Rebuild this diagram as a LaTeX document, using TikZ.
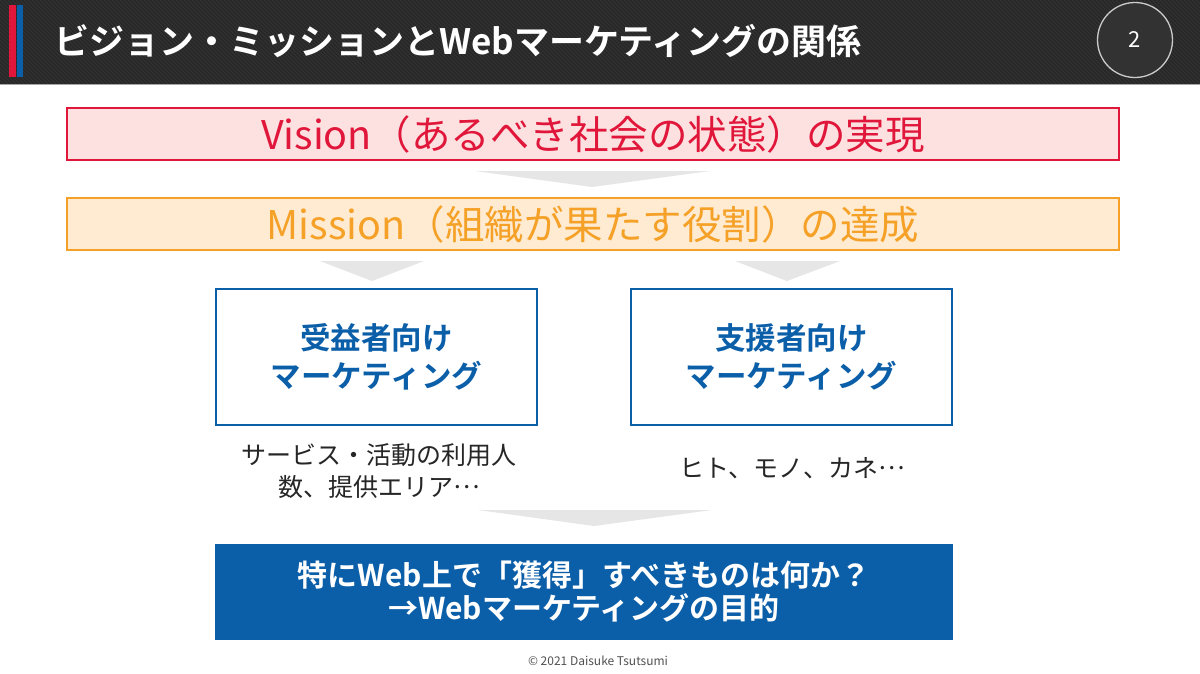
\documentclass[tikz,border=0pt]{standalone}
\usepackage{fontspec}
\setmainfont{Noto Sans CJK JP}
\newfontfamily\jpb{Noto Sans CJK JP Bold}
\newfontfamily\jp{Noto Sans CJK JP}
\definecolor{hdr}{HTML}{262626}
\definecolor{hdrstripe}{HTML}{323232}
\definecolor{vred}{HTML}{E0173A}
\definecolor{vfill}{HTML}{FDE1E1}
\definecolor{morange}{HTML}{F5A127}
\definecolor{mfill}{HTML}{FFEBD2}
\definecolor{mblue}{HTML}{0B5EA8}
\definecolor{arrowgray}{HTML}{E6E6E6}
\definecolor{txtgray}{HTML}{262626}
\newcommand{\midell}{\raisebox{0.3em}{…}}
\tikzset{
  bigbox/.style={draw, line width=2.5pt, minimum width=1052pt, minimum height=52pt, inner sep=0pt, font=\jp\fontsize{39.5}{42}\selectfont},
  sidebox/.style={draw=mblue, fill=white, line width=2.5pt, minimum width=321pt, minimum height=136pt, inner sep=0pt, align=center, text=mblue, font=\jpb\fontsize{30.5}{38}\selectfont},
  note/.style={align=center, text=txtgray, font=\jp\fontsize{25}{32}\selectfont, inner sep=0pt},
  chev/.style={fill=arrowgray, draw=none}
}
\begin{document}
\begin{tikzpicture}[x=1pt,y=-1pt]
\useasboundingbox (0,0) rectangle (1200,673);
\fill[white] (0,0) rectangle (1200,673);
% header
\fill[hdr] (0,0) rectangle (1200,84);
\begin{scope}
\clip (0,0) rectangle (1200,84);
\foreach \i in {-100,...,320}{
  \draw[hdrstripe, line width=1.3pt] (\i*4,0) -- ++(84,84);
}
\end{scope}
\draw[gray!70, line width=1pt] (0,84.5) -- (1200,84.5);
\fill[vred] (9,5) rectangle (15.5,77);
\fill[mblue] (16.5,5) rectangle (23,77);
\node[anchor=west, text=white, font=\jpb\fontsize{35}{40}\selectfont, inner sep=0pt] (title) at (54,41) {ビジョン・ミッションとWebマーケティングの関係};
\node[circle, draw=gray!40, line width=1.3pt, fill=hdrstripe, minimum size=75pt, inner sep=0pt, text=white, font=\jp\fontsize{22}{26}\selectfont] (page) at (1135,40) {2};
% vision
\node[bigbox, draw=vred, fill=vfill, text=vred] (vision) at (593,134) {Vision（あるべき社会の状態）の実現};
\fill[chev] (475,171) -- (710,171) -- (592,187) -- cycle;
% mission
\node[bigbox, draw=morange, fill=mfill, text=morange] (mission) at (593,224) {Mission（組織が果たす役割）の達成};
\fill[chev] (320,261) -- (424,261) -- (372,281) -- cycle;
\fill[chev] (735,261) -- (840,261) -- (787,281) -- cycle;
% side boxes
\node[sidebox] (left) at (376.5,357) {受益者向け\\マーケティング};
\node[sidebox] (right) at (791.5,357) {支援者向け\\マーケティング};
\node[note] (lnote) at (379,471) {サービス・活動の利用人\\数、提供エリア\midell};
\node[note] (rnote) at (792,468) {ヒト、モノ、カネ\midell};
\fill[chev] (478,510) -- (712,510) -- (594,526) -- cycle;
% bottom
\node[fill=mblue, minimum width=738pt, minimum height=96pt, inner sep=0pt, align=center, text=white, font=\jpb\fontsize{30}{33}\selectfont] (goal) at (584,592) {特にWeb上で「獲得」すべきものは何か？\\→Webマーケティングの目的};
\node[text=txtgray!80, font=\jp\fontsize{12}{14}\selectfont, inner sep=0pt] (copy) at (598,661) {© 2021 Daisuke Tsutsumi};
\end{tikzpicture}
\end{document}
